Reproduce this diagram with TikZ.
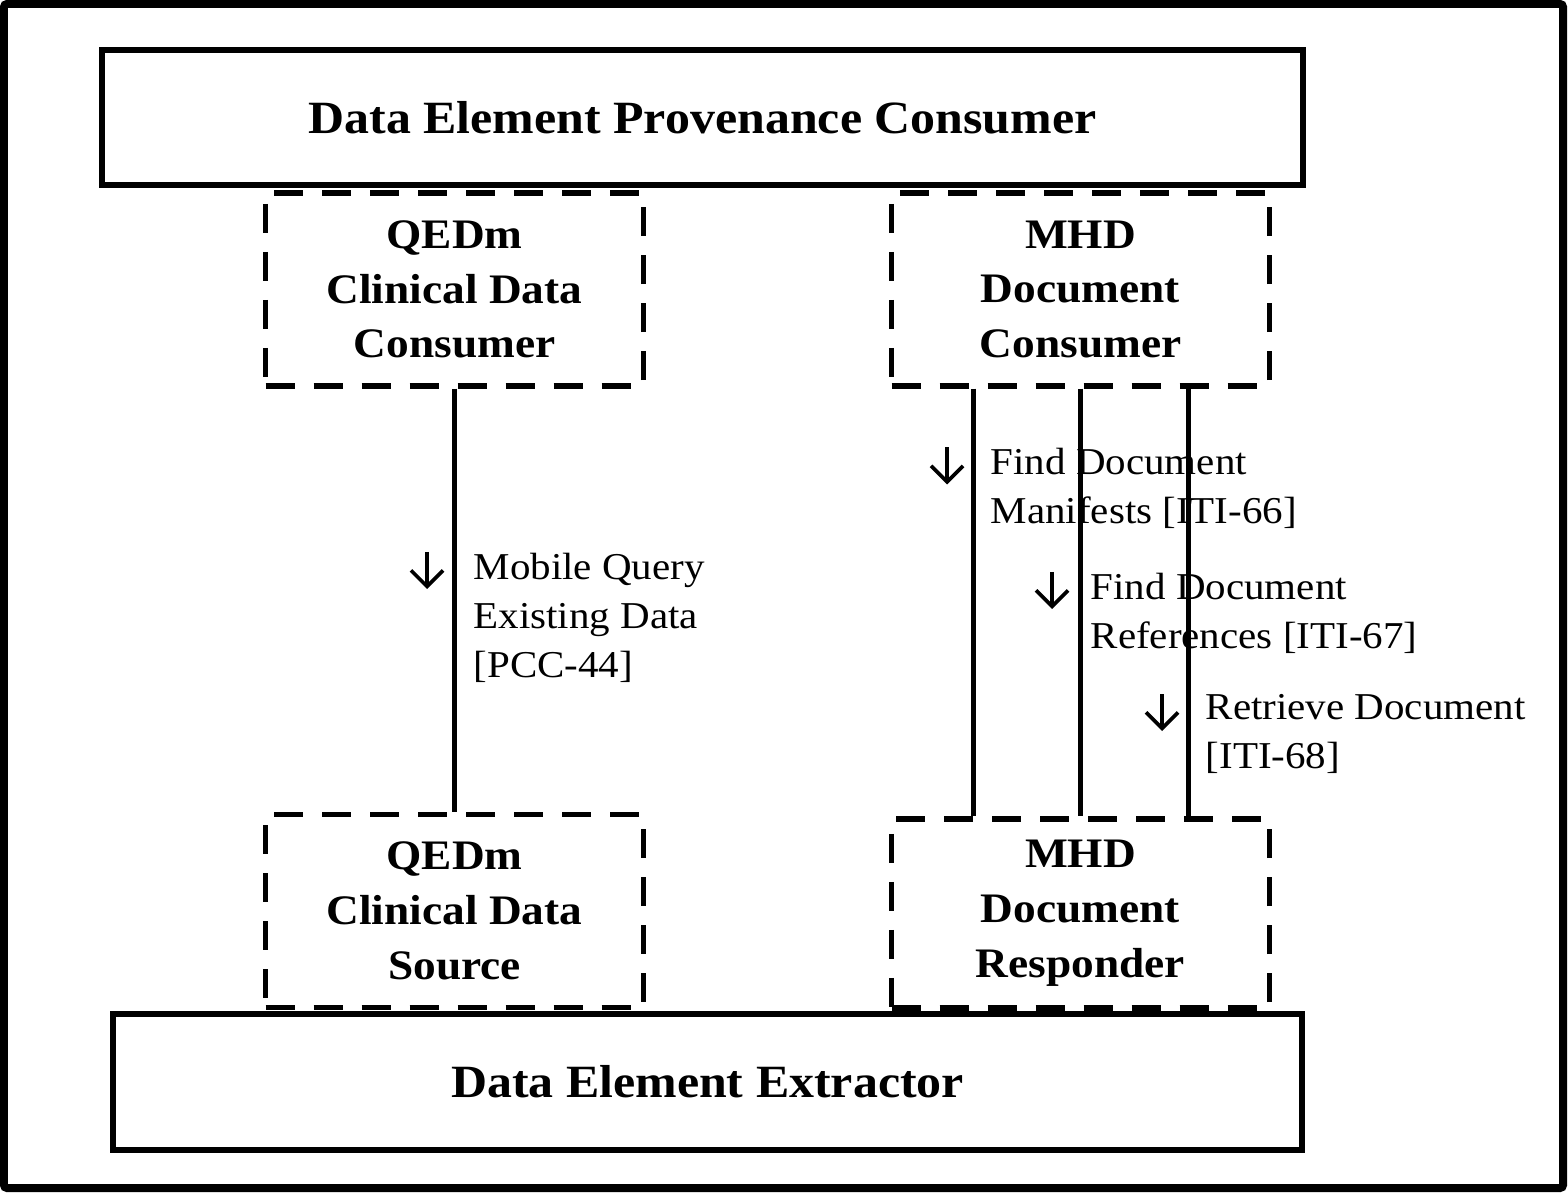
\documentclass[tikz,border=0pt]{standalone}
\usepackage{fontspec}
\setmainfont{Liberation Serif}[FakeStretch=1.08]
\usepackage{tikz}
\usetikzlibrary{arrows.meta}

\begin{document}
\begin{tikzpicture}[
    actor/.style={draw, line width=0.06cm, inner sep=0pt, align=center,
        font=\bfseries\fontsize{13.15}{16}\selectfont},
    role/.style={draw, line width=0.055cm, dash pattern=on 0.29cm off 0.19cm,
        inner sep=0pt, align=center, minimum width=3.78cm, minimum height=1.93cm,
        font=\bfseries\fontsize{11.95}{15.6}\selectfont},
    trans/.style={line width=0.045cm},
    tlabel/.style={anchor=north west, inner sep=0pt, align=left,
        font=\fontsize{10.8}{13.95}\selectfont},
    dir/.style={line width=0.037cm, -{Straight Barb[length=0.16cm,width=0.32cm]}}
]
    \useasboundingbox (0,0) rectangle (15.68,-11.93);
    \draw[line width=0.08cm, rounded corners=0.03cm] (0.04,-0.04) rectangle (15.63,-11.88);

    % actors
    \node[actor, minimum width=12.01cm, minimum height=1.35cm] (provcons) at (7.025,-1.175) {Data Element Provenance Consumer};
    \node[actor, minimum width=11.89cm, minimum height=1.36cm] (extractor) at (7.075,-10.82) {Data Element Extractor};

    \node[role] (qcons) at (4.545,-2.895) {QEDm\\Clinical Data\\Consumer};
    \node[role] (qsrc)  at (4.545,-9.11)  {QEDm\\Clinical Data\\Source};
    \node[role] (mcons) at (10.805,-2.895) {MHD\\Document\\Consumer};
    \node[role, minimum height=1.89cm] (mresp) at (10.805,-9.135) {MHD\\Document\\Responder};

    % transactions
    \draw[trans] (qcons.south) -- (qsrc.north);
    \draw[trans] ([xshift=-1.07cm]mcons.south) -- ([xshift=-1.07cm]mresp.north);
    \draw[trans] (mcons.south) -- (mresp.north);
    \draw[trans] ([xshift=1.08cm]mcons.south) -- ([xshift=1.08cm]mresp.north);

    \node[tlabel] (l44) at (4.73,-5.52)  {Mobile Query\\Existing Data\\{[PCC-44]}};
    \node[tlabel] (l66) at (9.90,-4.475) {Find Document\\Manifests [ITI-66]};
    \node[tlabel] (l67) at (10.90,-5.72) {Find Document\\References [ITI-67]};
    \node[tlabel] (l68) at (12.05,-6.94) {Retrieve Document\\{[ITI-68]}};

    \draw[dir] ([xshift=-0.46cm]l44.north west) -- ++(0,-0.37);
    \draw[dir] ([xshift=-0.43cm]l66.north west) -- ++(0,-0.37);
    \draw[dir] ([xshift=-0.38cm]l67.north west) -- ++(0,-0.37);
    \draw[dir] ([xshift=-0.43cm]l68.north west) -- ++(0,-0.37);
\end{tikzpicture}
\end{document}
